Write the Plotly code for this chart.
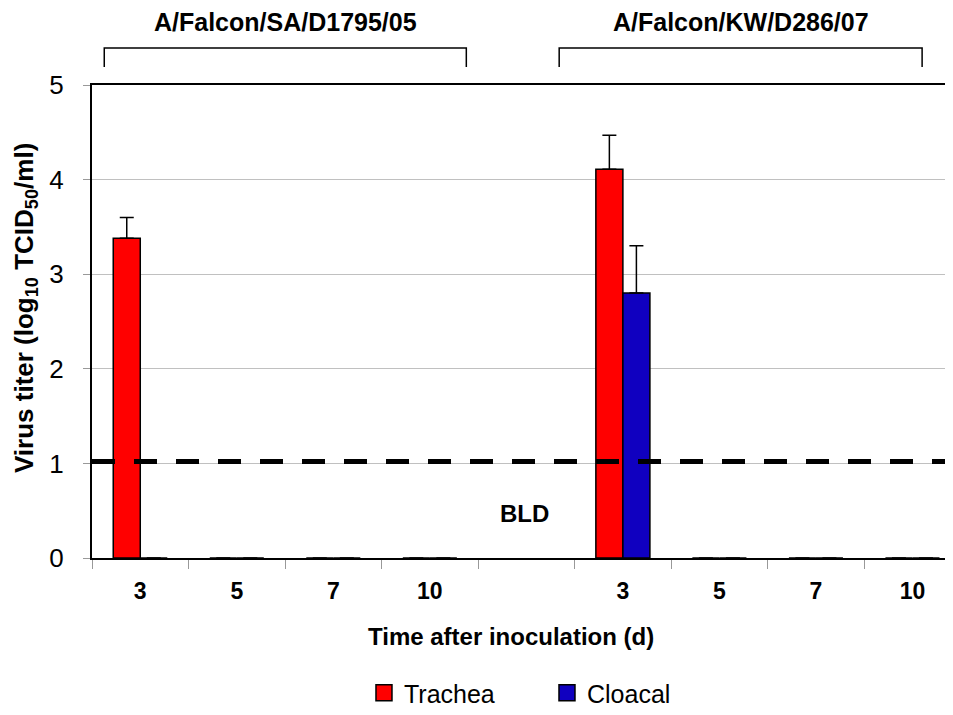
import plotly.graph_objects as go

categories = ["3", "5", "7", "10", " ", "3 ", "5 ", "7 ", "10 "]
tick_labels = ["3", "5", "7", "10", "", "3", "5", "7", "10"]
trachea = [3.38, 0, 0, 0, None, 4.11, 0, 0, 0]
trachea_err = [0.22, 0, 0, 0, 0, 0.36, 0, 0, 0]
cloacal = [0, 0, 0, 0, None, 2.80, 0, 0, 0]
cloacal_err = [0, 0, 0, 0, 0, 0.50, 0, 0, 0]
bld_level = 1.02
groups = ["A/Falcon/SA/D1795/05", "A/Falcon/KW/D286/07"]
group_spans = [(-0.373, 3.378), (4.34, 8.10)]
series_colors = {"Trachea": "#ff0000", "Cloacal": "#1000c0"}

FONT = "Liberation Sans, Arial, sans-serif"

fig = go.Figure()
for name, vals, errs in [("Trachea", trachea, trachea_err), ("Cloacal", cloacal, cloacal_err)]:
    fig.add_trace(go.Bar(
        x=categories, y=vals, name=name, showlegend=False,
        marker=dict(color=series_colors[name], line=dict(color="black", width=1.5)),
        error_y=dict(type="data", array=errs, symmetric=False,
                     arrayminus=[0] * len(errs), color="black", thickness=1.5, width=7),
    ))
# legend proxies (larger square swatches)
for name in ["Trachea", "Cloacal"]:
    fig.add_trace(go.Scatter(
        x=[None], y=[None], mode="markers", name=name,
        marker=dict(symbol="square", size=16, color=series_colors[name],
                    line=dict(color="black", width=1.5)),
    ))

# BLD dashed line
fig.add_shape(type="line", xref="paper", yref="y", x0=0, x1=1,
              y0=bld_level, y1=bld_level,
              line=dict(color="black", width=5, dash="23px,19px"))

fig.add_annotation(x=" ", y=0.5, xref="x", yref="y", text="<b>BLD</b>",
                   showarrow=False, font=dict(family=FONT, size=24, color="black"),
                   yshift=-3, xshift=-2)

# group brackets
for name, (a, b) in zip(groups, group_spans):
    fig.add_shape(type="path", xref="x", yref="paper",
                  path=f"M {a},1.038 L {a},1.078 L {b},1.078 L {b},1.038",
                  line=dict(color="black", width=1.5))
    fig.add_annotation(x=(a + b) / 2, y=1.133, xref="x", yref="paper",
                       text=f"<b>{name}</b>", showarrow=False, yanchor="middle",
                       font=dict(family=FONT, size=25, color="black"))

# axis titles (placed as in the reference)
fig.add_annotation(x=0.4866, y=-0.167, xref="paper", yref="paper",
                   text="<b>Time after inoculation (d)</b>", showarrow=False,
                   xanchor="center", yanchor="middle",
                   font=dict(family=FONT, size=24, color="black"))
fig.add_annotation(x=-0.0778, y=0.5285, xref="paper", yref="paper",
                   text="<b>Virus titer (log<sub>10</sub> TCID<sub>50</sub>/ml)</b>",
                   showarrow=False, textangle=-90,
                   xanchor="center", yanchor="middle",
                   font=dict(family=FONT, size=26, color="black"))

fig.update_layout(
    width=945, height=699,
    margin=dict(l=84, r=0, t=77, b=149, autoexpand=False),
    paper_bgcolor="white", plot_bgcolor="white",
    barmode="group", bargap=0.44, bargroupgap=0,
    font=dict(family=FONT, color="black"),
    showlegend=True,
    legend=dict(orientation="h", xref="container", yref="container",
                x=0.3767, y=0.02, xanchor="left", yanchor="middle",
                font=dict(family=FONT, size=25, color="black"),
                entrywidth=138, entrywidthmode="pixels", itemsizing="trace"),
)
fig.update_xaxes(
    type="category", categoryorder="array", categoryarray=categories,
    tickvals=categories, ticktext=[f"<b>{t}</b>" for t in tick_labels],
    range=[-0.5, 8.42], tickson="boundaries", automargin=False,
    ticks="outside", ticklen=9, tickcolor="#999999", tickwidth=1,
    showline=True, linecolor="black", linewidth=2, mirror=True,
    showgrid=False, tickfont=dict(family=FONT, size=23, color="black"),
    ticklabelstandoff=11,
)
fig.update_yaxes(
    range=[0, 5], tickvals=[0, 1, 2, 3, 4, 5], automargin=False,
    ticks="outside", ticklen=7, tickcolor="#999999", tickwidth=1,
    showline=True, linecolor="black", linewidth=2,
    showgrid=True, gridcolor="#c0c0c0", gridwidth=1,
    tickfont=dict(family=FONT, size=26, color="black"),
    ticklabelstandoff=14, zeroline=False,
)

fig.write_html("out.html")
